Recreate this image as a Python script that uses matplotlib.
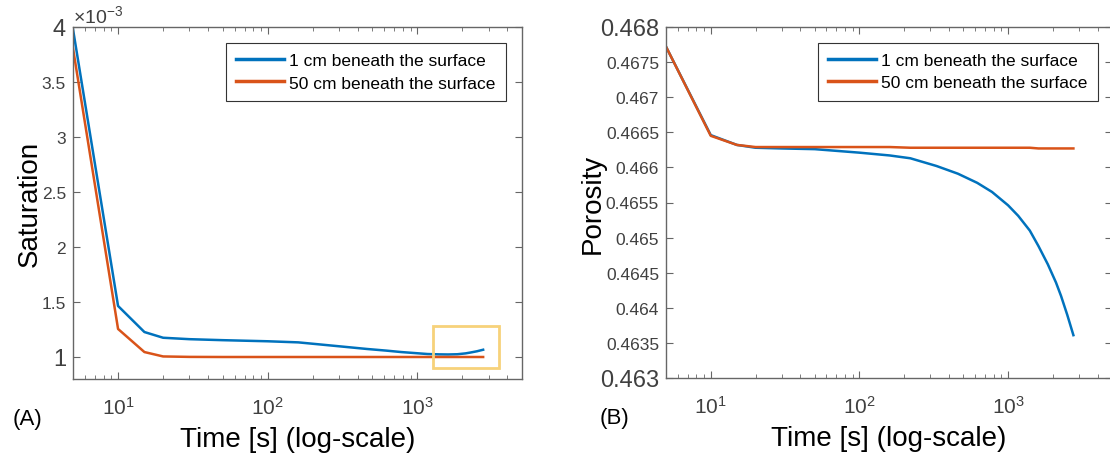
import matplotlib
matplotlib.use("Agg")
import matplotlib.pyplot as plt
from matplotlib.patches import Rectangle
from matplotlib.ticker import FixedLocator, LogLocator, NullFormatter

plt.rcParams["font.family"] = ["Liberation Sans", "DejaVu Sans"]
plt.rcParams["mathtext.fontset"] = "custom"
plt.rcParams["mathtext.rm"] = "Liberation Sans"
plt.rcParams["mathtext.it"] = "Liberation Sans:italic"

# ---- data ---------------------------------------------------------------
time_s = [5, 10, 15, 20, 30, 50, 100, 160, 220, 330, 460, 620, 780,
          1000, 1170, 1400, 1600, 1850, 2100, 2270, 2500, 2750]

sat_1cm = [3.98e-3, 1.464e-3, 1.227e-3, 1.175e-3, 1.162e-3, 1.153e-3,
           1.143e-3, 1.133e-3, 1.115e-3, 1.092e-3, 1.073e-3, 1.058e-3,
           1.045e-3, 1.034e-3, 1.027e-3, 1.024e-3, 1.023e-3, 1.025e-3,
           1.033e-3, 1.041e-3, 1.052e-3, 1.066e-3]
sat_50cm = [3.806e-3, 1.255e-3, 1.045e-3, 1.005e-3, 1.001e-3, 1.0e-3,
            1.0e-3, 1.0e-3, 1.0e-3, 1.0e-3, 1.0e-3, 1.0e-3, 1.0e-3,
            1.0e-3, 1.0e-3, 1.0e-3, 1.0e-3, 1.0e-3, 1.0e-3, 1.0e-3,
            1.0e-3, 1.0e-3]

por_1cm = [0.46772, 0.46646, 0.46632, 0.46628, 0.46627, 0.46626,
           0.46621, 0.46617, 0.46613, 0.46602, 0.46591, 0.46578,
           0.46565, 0.46546, 0.46531, 0.46510, 0.46488, 0.46462,
           0.46436, 0.46417, 0.46390, 0.46361]
por_50cm = [0.46772, 0.46645, 0.46632, 0.46629, 0.46629, 0.46629,
            0.46629, 0.46629, 0.46628, 0.46628, 0.46628, 0.46628,
            0.46628, 0.46628, 0.46628, 0.46628, 0.46627, 0.46627,
            0.46627, 0.46627, 0.46627, 0.46627]

series_labels = ["1 cm beneath the surface", "50 cm beneath the surface"]

sat_ticks = [1.0e-3, 1.5e-3, 2.0e-3, 2.5e-3, 3.0e-3, 3.5e-3, 4.0e-3]
sat_ticklabels = ["1", "1.5", "2", "2.5", "3", "3.5", "4"]
por_ticks = [0.463, 0.4635, 0.464, 0.4645, 0.465, 0.4655, 0.466,
             0.4665, 0.467, 0.4675, 0.468]
por_ticklabels = ["0.463", "0.4635", "0.464", "0.4645", "0.465", "0.4655",
                  "0.466", "0.4665", "0.467", "0.4675", "0.468"]
time_ticks = [10, 100, 1000]
time_ticklabels = [r"$\mathregular{10^{1}}$", r"$\mathregular{10^{2}}$",
                   r"$\mathregular{10^{3}}$"]

# highlighted late-time window on the saturation plot
window_t = (1280, 3500)
window_sat = (0.9e-3, 1.28e-3)

BLUE = "#0072BD"
RED = "#D95319"
AX_COL = "#666666"
TXT_COL = "#404040"

# ---- figure -------------------------------------------------------------
fig = plt.figure(figsize=(11.1, 4.6), dpi=100)
axA = fig.add_axes([73 / 1110, 80 / 460, 449 / 1110, 352 / 460])
axB = fig.add_axes([666 / 1110, 81 / 460, 446 / 1110, 351 / 460])


def style_axes(ax, yticks, ylabels, big_labels):
    ax.set_xscale("log")
    ax.set_xlim(5, 5000)
    for s in ax.spines.values():
        s.set_color(AX_COL)
        s.set_linewidth(1.0)
    ax.tick_params(which="both", direction="in", top=True, right=True,
                   color=AX_COL, labelcolor=TXT_COL)
    ax.tick_params(which="major", length=5, width=0.8)
    ax.tick_params(which="minor", length=3, width=0.6)
    ax.xaxis.set_major_locator(FixedLocator(time_ticks))
    ax.set_xticklabels(time_ticklabels, fontsize=15)
    ax.xaxis.set_minor_locator(LogLocator(base=10, subs=range(2, 10)))
    ax.xaxis.set_minor_formatter(NullFormatter())
    ax.tick_params(axis="x", which="major", pad=12)
    ax.tick_params(axis="y", which="major", pad=5)
    ax.yaxis.set_major_locator(FixedLocator(yticks))
    ax.set_yticklabels(ylabels)
    for lab in ax.get_yticklabels():
        if lab.get_text() in big_labels:
            lab.set_fontsize(17)
        else:
            lab.set_fontsize(12.5)
    ax.set_xlabel("Time [s] (log-scale)", fontsize=20, color="black",
                  labelpad=6)


# (A) saturation
axA.plot(time_s, sat_1cm, color=BLUE, lw=1.8, label=series_labels[0])
axA.plot(time_s, sat_50cm, color=RED, lw=1.8, label=series_labels[1])
axA.set_ylim(0.8e-3, 4.0e-3)
style_axes(axA, sat_ticks, sat_ticklabels, {"1", "4"})
axA.set_ylabel("Saturation", fontsize=20, color="black", labelpad=-1)
axA.add_patch(Rectangle((window_t[0], window_sat[0]),
                        window_t[1] - window_t[0],
                        window_sat[1] - window_sat[0],
                        fill=False, edgecolor="#F7D27A", lw=2.0, zorder=3))
axA.text(0.0, 1.002, r"$\mathregular{\times10^{-3}}$", transform=axA.transAxes,
         fontsize=14, color=TXT_COL, ha="left", va="bottom")

# (B) porosity
axB.plot(time_s, por_1cm, color=BLUE, lw=1.8, label=series_labels[0])
axB.plot(time_s, por_50cm, color=RED, lw=1.8, label=series_labels[1])
axB.set_ylim(0.463, 0.468)
style_axes(axB, por_ticks, por_ticklabels, {"0.463", "0.468"})
axB.set_ylabel("Porosity", fontsize=20, color="black", labelpad=-4)

for ax, anchor in ((axA, (0.964, 0.955)), (axB, (0.969, 0.955))):
    leg = ax.legend(loc="upper right", bbox_to_anchor=anchor,
                    borderaxespad=0, fontsize=12.5, handlelength=2.75,
                    handletextpad=0.3, labelspacing=0.4, borderpad=0.6,
                    fancybox=False, framealpha=1, edgecolor="#333333")
    leg.get_frame().set_linewidth(0.8)
    for line in leg.get_lines():
        line.set_linewidth(2.5)

fig.text(13 / 1110, 1 - 420 / 460, "(A)", fontsize=16, va="center",
         ha="left")
fig.text(600 / 1110, 1 - 419 / 460, "(B)", fontsize=16, va="center",
         ha="left")

fig.savefig("out.png", dpi=100)
